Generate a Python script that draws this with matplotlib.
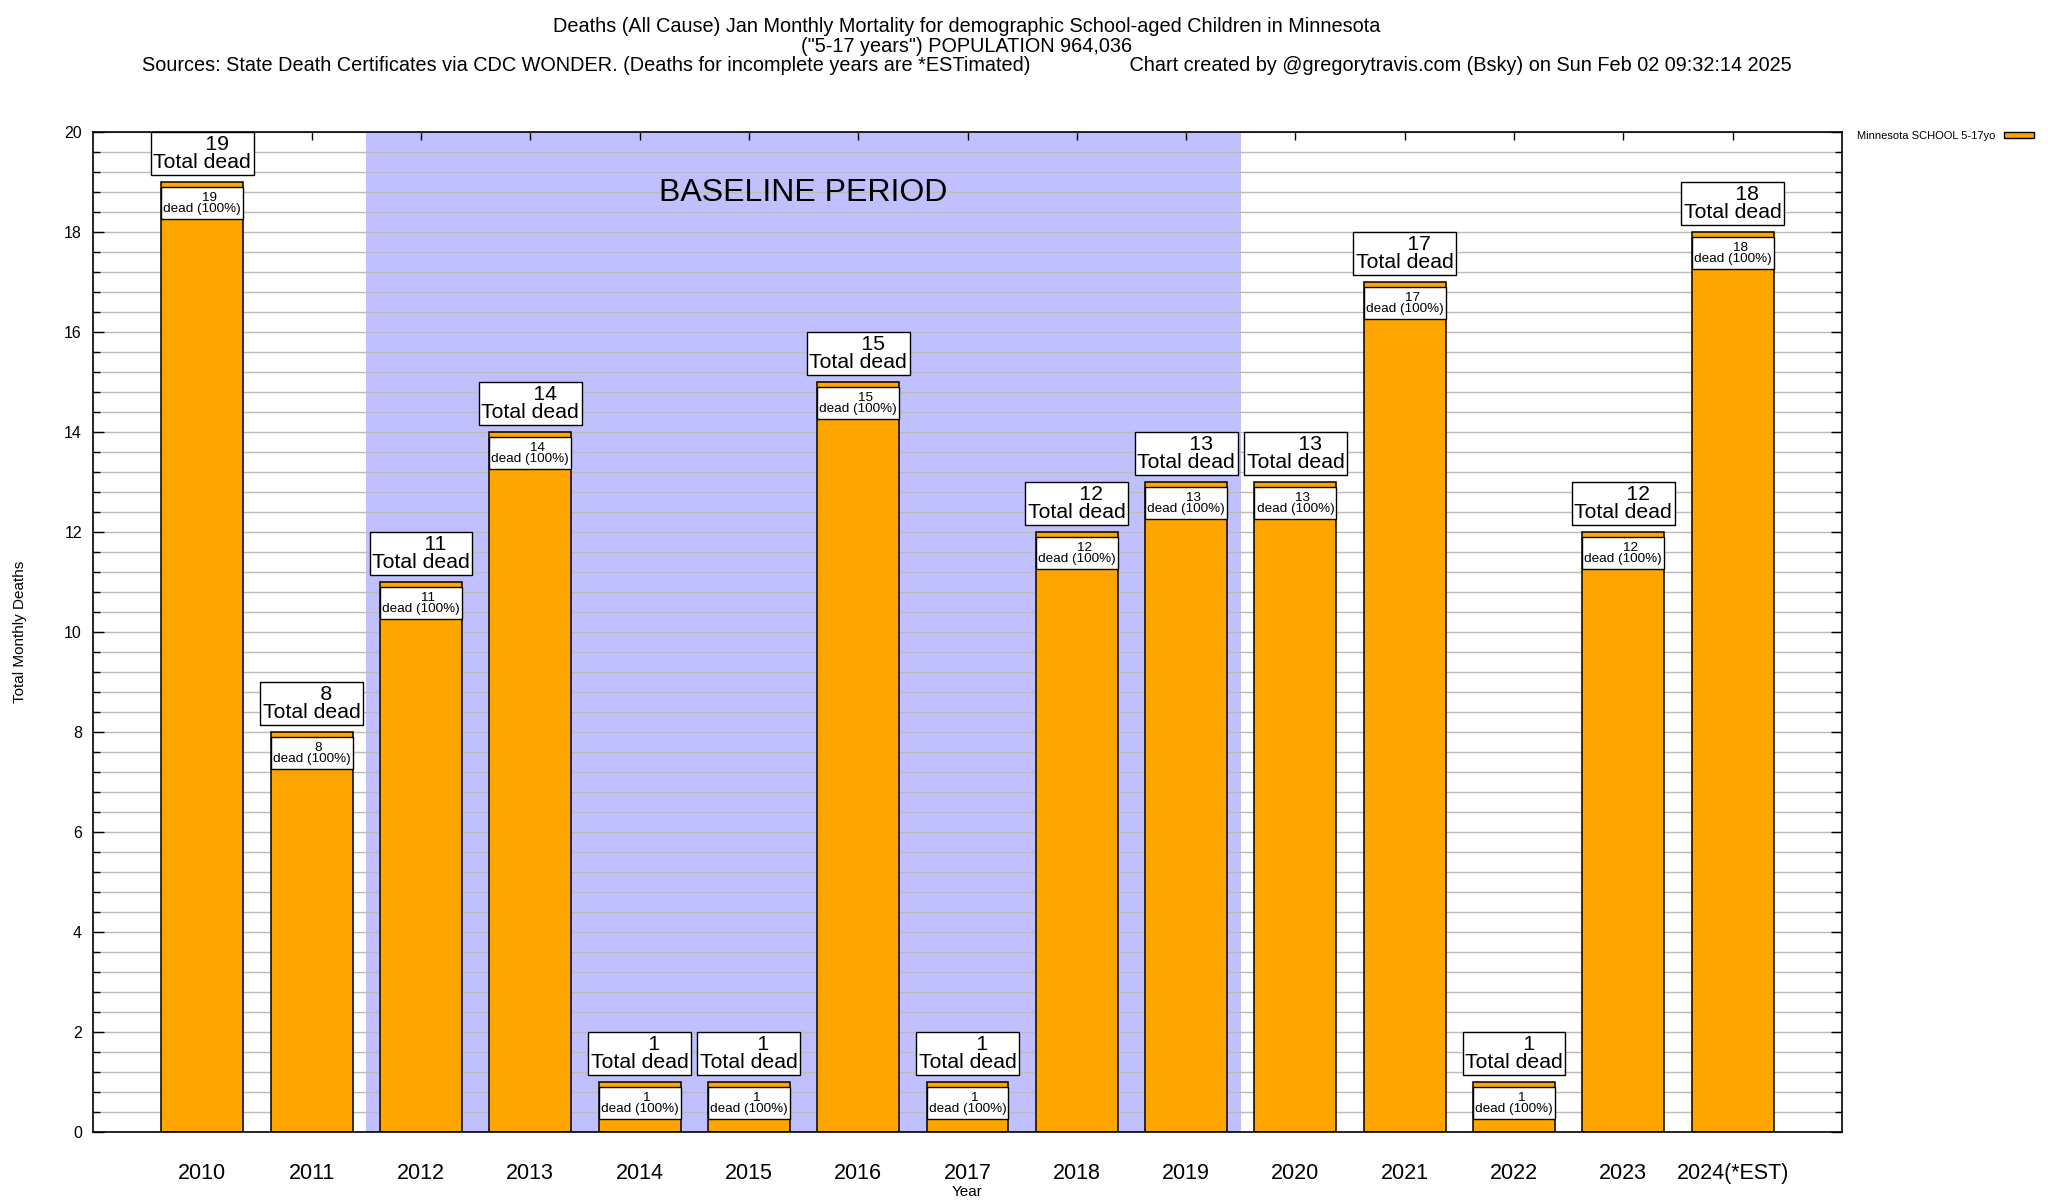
import numpy as np
import matplotlib
matplotlib.use("Agg")
import matplotlib.pyplot as plt
from matplotlib.patches import Patch
from matplotlib.ticker import MultipleLocator

plt.rcParams['font.family'] = ['Liberation Sans', 'DejaVu Sans']

years = ['2010', '2011', '2012', '2013', '2014', '2015', '2016', '2017',
         '2018', '2019', '2020', '2021', '2022', '2023', '2024(*EST)']
deaths = [19, 8, 11, 14, 1, 1, 15, 1, 12, 13, 13, 17, 1, 12, 18]
baseline_first = '2012'
baseline_last = '2019'
series_name = 'Minnesota SCHOOL 5-17yo'

title_lines = [
    'Deaths (All Cause) Jan Monthly Mortality for demographic School-aged Children in Minnesota',
    '("5-17 years") POPULATION 964,036',
    'Sources: State Death Certificates via CDC WONDER. (Deaths for incomplete years are *ESTimated)'
    '                  Chart created by @gregorytravis.com (Bsky) on Sun Feb 02 09:32:14 2025',
]

orange = '#ffa500'
lavender = '#c0c0ff'

x = np.arange(len(years))
vals = np.array(deaths, dtype=float)

fig = plt.figure(figsize=(20.48, 12), dpi=100)
ax = fig.add_axes([93 / 2048, 68 / 1200, 1749 / 2048, 1000 / 1200])

# baseline shading
b0 = years.index(baseline_first)
b1 = years.index(baseline_last)
ax.axvspan(b0 - 0.5, b1 + 0.5, color=lavender, lw=0, zorder=0)
ax.text((b0 + b1) / 2, 18.78, 'BASELINE PERIOD', ha='center', va='center',
        fontsize=23, zorder=3)

# bars
ax.bar(x, vals, width=0.75, color=orange, edgecolor='black', linewidth=1.1, zorder=2)

# inner white label boxes
ax.bar(x, np.full(len(x), 0.64), bottom=vals - 0.746, width=0.75, color='white',
       edgecolor='black', linewidth=1.0, zorder=3)
for xi, v in zip(x, deaths):
    ax.text(xi, v - 0.43, f'    {v}\ndead (100%)', ha='center', va='center',
            fontsize=9.7, linespacing=0.95, zorder=4)
    ax.text(xi, v + 0.19, f'     {v}\nTotal dead', ha='center', va='bottom',
            fontsize=15.3, linespacing=0.98, zorder=5,
            bbox=dict(boxstyle='square,pad=0.12', fc='white', ec='black', lw=1.0))

ax.set_xlim(-1, 15)
ax.set_ylim(0, 20)
ax.set_xticks(x)
ax.set_xticklabels(years, fontsize=15.5)
ax.yaxis.set_major_locator(MultipleLocator(2))
ax.yaxis.set_minor_locator(MultipleLocator(0.4))
ax.tick_params(axis='x', which='both', bottom=False, top=True, direction='in',
               length=6, width=1, pad=22)
ax.tick_params(axis='y', which='major', left=True, right=True, direction='in',
               length=8, width=1, labelsize=11.5, pad=8)
ax.tick_params(axis='y', which='minor', left=True, right=True, direction='in',
               length=5, width=1)
ax.set_axisbelow(True)
ax.grid(axis='y', which='both', color='#bcbcbc', linewidth=1.0)
for s in ax.spines.values():
    s.set_linewidth(1.2)

ax.set_xlabel('Year', fontsize=11, labelpad=1)
ax.set_ylabel('Total Monthly Deaths', fontsize=11, labelpad=27)

for i, line in enumerate(title_lines):
    fig.text(967 / 2048, 1 - (26.5 + 19.6 * i) / 1200, line, ha='center', va='center',
             fontsize=14.3)

fig.legend(handles=[Patch(facecolor=orange, edgecolor='black', linewidth=1)],
           labels=[series_name], loc='upper right',
           bbox_to_anchor=(2034 / 2048, 1 - 131 / 1200), frameon=False,
           markerfirst=False, fontsize=8, handlelength=2.7, handleheight=0.4,
           handletextpad=0.8, borderpad=0, borderaxespad=0)

fig.savefig('out.png', dpi=100)
